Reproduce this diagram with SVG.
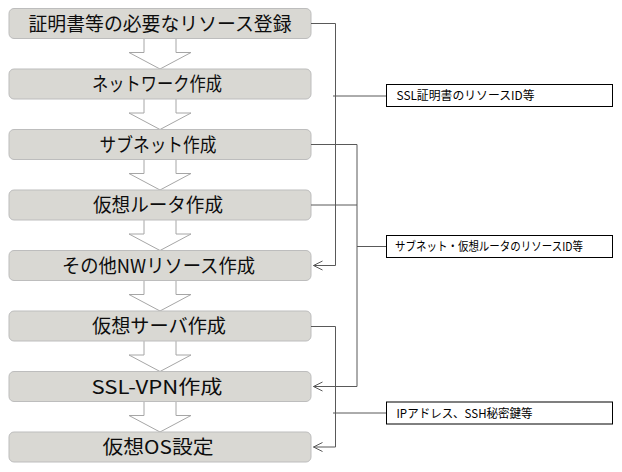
<svg xmlns="http://www.w3.org/2000/svg" width="622" height="472" viewBox="0 0 622 472">
<style>
.box{fill:#D9D8D3;stroke:#BDBDBD;stroke-width:1}
.blk{fill:#FFFFFF;stroke:#A6A6A6;stroke-width:1}
.t{font-family:"Noto Sans CJK JP","Noto Sans",sans-serif;font-size:19px;fill:#0D0D0D;text-anchor:middle}
.lb{fill:#FFFFFF;stroke:#000000;stroke-width:1}
.lt{font-family:"Noto Sans CJK JP","Noto Sans",sans-serif;font-size:12px;fill:#000000}
.c{fill:none;stroke:#595959;stroke-width:1}
</style>
<defs>
<marker id="arr" markerUnits="userSpaceOnUse" markerWidth="12" markerHeight="12" viewBox="-11 -6 12 12" refX="0" refY="0" orient="auto" overflow="visible">
<path d="M-9,-4.5 L0,0 L-9,4.5" fill="none" stroke="#595959" stroke-width="1"/>
</marker>
</defs>
<g id="flow-arrows">
<path class="blk" d="M144,38.5 V52.5 H129 L160,69 L191,52.5 H176 V38.5"/>
<path class="blk" d="M144,99 V113 H129 L160,129.5 L191,113 H176 V99"/>
<path class="blk" d="M144,159.5 V173.5 H129 L160,190 L191,173.5 H176 V159.5"/>
<path class="blk" d="M144,220 V234 H129 L160,250.5 L191,234 H176 V220"/>
<path class="blk" d="M144,280.5 V294.5 H129 L160,311 L191,294.5 H176 V280.5"/>
<path class="blk" d="M144,341 V355 H129 L160,371.5 L191,355 H176 V341"/>
<path class="blk" d="M144,401.5 V415.5 H129 L160,432 L191,415.5 H176 V401.5"/>
</g>
<g id="n1"><rect class="box" x="9" y="8.5" width="302" height="30" rx="5"/><text class="t" x="160" y="30.5" textLength="263" lengthAdjust="spacingAndGlyphs">証明書等の必要なリソース登録</text></g>
<g id="n2"><rect class="box" x="9" y="69" width="302" height="30" rx="5"/><text class="t" x="157" y="91" textLength="130" lengthAdjust="spacingAndGlyphs">ネットワーク作成</text></g>
<g id="n3"><rect class="box" x="9" y="129.5" width="302" height="30" rx="5"/><text class="t" x="158" y="151.5" textLength="117" lengthAdjust="spacingAndGlyphs">サブネット作成</text></g>
<g id="n4"><rect class="box" x="9" y="190" width="302" height="30" rx="5"/><text class="t" x="158" y="212" textLength="130" lengthAdjust="spacingAndGlyphs">仮想ルータ作成</text></g>
<g id="n5"><rect class="box" x="9" y="250.5" width="302" height="30" rx="5"/><text class="t" x="158.5" y="272.5" textLength="193" lengthAdjust="spacingAndGlyphs">その他NWリソース作成</text></g>
<g id="n6"><rect class="box" x="9" y="311" width="302" height="30" rx="5"/><text class="t" x="159" y="333" textLength="134" lengthAdjust="spacingAndGlyphs">仮想サーバ作成</text></g>
<g id="n7"><rect class="box" x="9" y="371.5" width="302" height="30" rx="5"/><text class="t" x="157" y="393.5" textLength="131" lengthAdjust="spacingAndGlyphs">SSL-VPN作成</text></g>
<g id="n8"><rect class="box" x="9" y="432" width="302" height="30" rx="5"/><text class="t" x="158" y="454" textLength="111" lengthAdjust="spacingAndGlyphs">仮想OS設定</text></g>
<g id="connectors">
<path class="c" d="M311,23.5 H335.5 V265.5 H313.5" marker-end="url(#arr)"/>
<path class="c" d="M333,96 H386"/>
<path class="c" d="M311,144.5 H357 V386.5 H313.5" marker-end="url(#arr)"/>
<path class="c" d="M311,205 H357"/>
<path class="c" d="M357,246.5 H386"/>
<path class="c" d="M311,326.5 H335.5 V447 H313.5" marker-end="url(#arr)"/>
<path class="c" d="M333,413 H386"/>
</g>
<g id="label1"><rect class="lb" x="386.5" y="84.5" width="226" height="22"/><text class="lt" x="396.5" y="100" textLength="138" lengthAdjust="spacingAndGlyphs">SSL証明書のリソースID等</text></g>
<g id="label2"><rect class="lb" x="386.5" y="235.5" width="226" height="22"/><text class="lt" x="395" y="251" textLength="188" lengthAdjust="spacingAndGlyphs">サブネット・仮想ルータのリソースID等</text></g>
<g id="label3"><rect class="lb" x="386.5" y="402" width="226" height="22"/><text class="lt" x="396.5" y="417.5" textLength="136" lengthAdjust="spacingAndGlyphs">IPアドレス、SSH秘密鍵等</text></g>
</svg>
